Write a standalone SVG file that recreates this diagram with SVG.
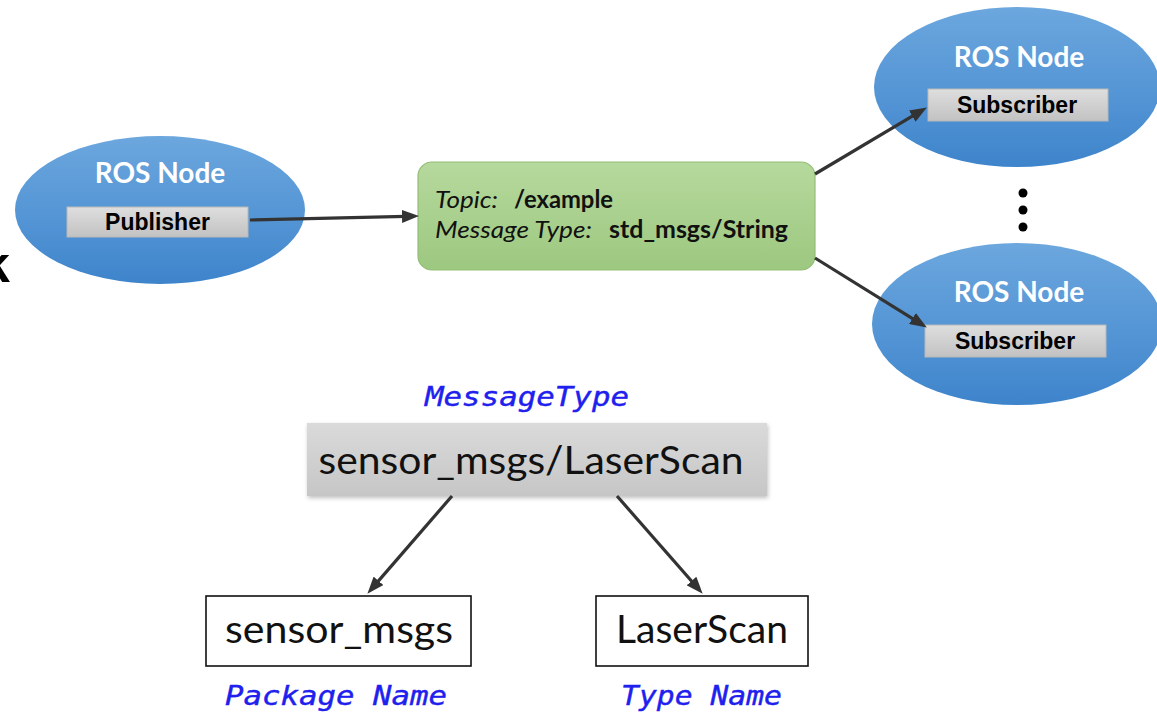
<svg xmlns="http://www.w3.org/2000/svg" width="1157" height="713" viewBox="0 0 1157 713">
  <defs>
    <linearGradient id="gBlue" x1="0" y1="0" x2="0" y2="1">
      <stop offset="0" stop-color="#6ca7de"/>
      <stop offset="0.55" stop-color="#5495d5"/>
      <stop offset="1" stop-color="#3e84cb"/>
    </linearGradient>
    <linearGradient id="gGreen" x1="0" y1="0" x2="0" y2="1">
      <stop offset="0" stop-color="#b6d99d"/>
      <stop offset="1" stop-color="#9dc880"/>
    </linearGradient>
    <linearGradient id="gGraySmall" x1="0" y1="0" x2="0" y2="1">
      <stop offset="0" stop-color="#dedede"/>
      <stop offset="1" stop-color="#c2c2c2"/>
    </linearGradient>
    <linearGradient id="gGrayBig" x1="0" y1="0" x2="0" y2="1">
      <stop offset="0" stop-color="#dadada"/>
      <stop offset="1" stop-color="#c6c6c6"/>
    </linearGradient>
    <filter id="shadow" x="-10%" y="-20%" width="120%" height="150%">
      <feDropShadow dx="1" dy="2" stdDeviation="2" flood-color="#000" flood-opacity="0.25"/>
    </filter>
    <marker id="arrow" markerUnits="userSpaceOnUse" markerWidth="17" markerHeight="13" refX="4" refY="6.5" orient="auto">
      <path d="M0,0 L17,6.5 L0,13 z" fill="#333333"/>
    </marker>
  </defs>
  <style>
    .ros { fill: url(#gBlue); }
    .rosTitle { font-family: Lato, "Liberation Sans", sans-serif; font-weight: bold; font-size: 28px; fill: #ffffff; text-anchor: middle; }
    .role { fill: url(#gGraySmall); stroke: #b8b8b8; stroke-width: 1; }
    .roleText { font-family: "Liberation Sans", Arial, sans-serif; font-weight: bold; font-size: 23px; fill: #000000; text-anchor: middle; }
    .topicIt { font-family: Lato, "Liberation Sans", sans-serif; font-style: italic; font-size: 24px; fill: #111111; }
    .topicBd { font-family: Lato, "Liberation Sans", sans-serif; font-weight: bold; font-size: 24px; fill: #111111; }
    .big { font-family: Lato, "Liberation Sans", sans-serif; font-size: 38px; fill: #111111; text-anchor: middle; }
    .box { fill: #ffffff; stroke: #111111; stroke-width: 1.6; }
    .mono { font-family: "DejaVu Sans Mono", "Liberation Mono", monospace; font-style: oblique; font-size: 27px; fill: #2020ee; stroke: #2020ee; stroke-width: 0.4; }
    .conn { stroke: #333333; stroke-width: 3.2; fill: none; marker-end: url(#arrow); }
    .dot { fill: #000000; }
  </style>

  <text x="-19" y="282" font-family="Liberation Sans, Arial, sans-serif" font-weight="bold" font-size="52" fill="#000000">k</text>

  <g id="publisher-node">
    <ellipse class="ros" cx="160" cy="210" rx="145" ry="74"/>
    <text class="rosTitle" x="160" y="183">ROS Node</text>
    <rect class="role" x="67" y="207" width="181" height="30"/>
    <text class="roleText" x="157.5" y="230">Publisher</text>
  </g>

  <g id="topic">
    <rect x="418" y="162" width="397" height="108" rx="14" ry="14" fill="url(#gGreen)" stroke="#93bd76" stroke-width="1.2"/>
    <text class="topicIt" x="435" y="208" textLength="63" lengthAdjust="spacingAndGlyphs">Topic:</text>
    <text class="topicBd" x="514" y="208" textLength="99" lengthAdjust="spacingAndGlyphs">/example</text>
    <text class="topicIt" x="435" y="238" textLength="157" lengthAdjust="spacingAndGlyphs">Message Type:</text>
    <text class="topicBd" x="609" y="238" textLength="179" lengthAdjust="spacingAndGlyphs">std_msgs/String</text>
  </g>

  <g id="subscriber-node-1">
    <ellipse class="ros" cx="1017" cy="87" rx="143" ry="80"/>
    <text class="rosTitle" x="1019" y="67">ROS Node</text>
    <rect class="role" x="928" y="89" width="180" height="32"/>
    <text class="roleText" x="1017" y="113">Subscriber</text>
  </g>

  <g id="ellipsis">
    <circle class="dot" cx="1023" cy="193" r="4.5"/>
    <circle class="dot" cx="1023" cy="210" r="4.5"/>
    <circle class="dot" cx="1023" cy="227" r="4.5"/>
  </g>

  <g id="subscriber-node-2">
    <ellipse class="ros" cx="1017" cy="324" rx="145" ry="81"/>
    <text class="rosTitle" x="1019" y="302">ROS Node</text>
    <rect class="role" x="925" y="325" width="181" height="32"/>
    <text class="roleText" x="1015" y="349">Subscriber</text>
  </g>

  <g id="message-type">
    <text class="mono" x="425" y="406" textLength="204" lengthAdjust="spacingAndGlyphs">MessageType</text>
    <rect x="307" y="423" width="460" height="73" fill="url(#gGrayBig)" filter="url(#shadow)"/>
    <text class="big" x="531" y="474" textLength="425" lengthAdjust="spacingAndGlyphs">sensor_msgs/LaserScan</text>
  </g>

  <g id="package-name">
    <rect class="box" x="206" y="596" width="265" height="70"/>
    <text class="big" x="339" y="643" textLength="228" lengthAdjust="spacingAndGlyphs">sensor_msgs</text>
    <text class="mono" x="225" y="705" textLength="222" lengthAdjust="spacingAndGlyphs">Package Name</text>
  </g>

  <g id="type-name">
    <rect class="box" x="596" y="596" width="212" height="70"/>
    <text class="big" x="702" y="643" textLength="172" lengthAdjust="spacingAndGlyphs">LaserScan</text>
    <text class="mono" x="621" y="705" textLength="161" lengthAdjust="spacingAndGlyphs">Type Name</text>
  </g>

  <g id="connectors">
    <path class="conn" d="M250,220 L406,216.3"/>
    <path class="conn" d="M815,174 L915.7,114.1"/>
    <path class="conn" d="M815,258 L915.8,320.7"/>
    <path class="conn" d="M452,496 L375.9,583.9"/>
    <path class="conn" d="M617,496 L694.1,584"/>
  </g>
</svg>
